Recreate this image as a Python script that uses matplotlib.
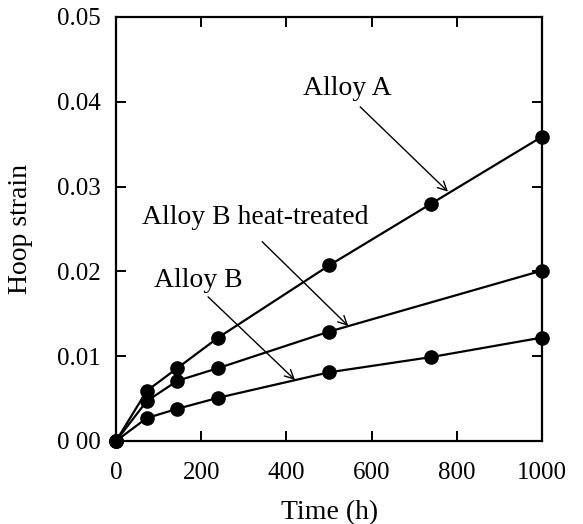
import matplotlib
matplotlib.use("Agg")
import matplotlib.pyplot as plt

time_h = [0, 72, 144, 240, 500, 740, 1000]
alloy_a = [0, 0.0059, 0.0086, 0.0122, 0.0207, 0.0280, 0.0359]
time_bht = [0, 72, 144, 240, 500, 1000]
alloy_b_ht = [0, 0.0047, 0.0071, 0.0086, 0.0129, 0.0201]
time_b = [0, 72, 144, 240, 500, 740, 1000]
alloy_b = [0, 0.0027, 0.0038, 0.0051, 0.0081, 0.0099, 0.0122]

xticks = [0, 200, 400, 600, 800, 1000]
yticks = [0.0, 0.01, 0.02, 0.03, 0.04, 0.05]
ytick_labels = ["0 00", "0.01", "0.02", "0.03", "0.04", "0.05"]

plt.rcParams['font.family'] = ['Liberation Serif', 'DejaVu Serif']

fig = plt.figure(figsize=(5.83, 5.24), dpi=100)
ax = fig.add_axes([0.199, 0.1584, 0.731, 0.8092])

for t, y in [(time_h, alloy_a), (time_bht, alloy_b_ht), (time_b, alloy_b)]:
    ax.plot(t, y, color='black', lw=1.6, marker='o', markersize=9.5, clip_on=False, zorder=3)

ax.set_xlim(0, 1000)
ax.set_ylim(0, 0.05)
ax.set_xticks(xticks)
ax.set_xticklabels([str(v) for v in xticks])
ax.set_yticks(yticks)
ax.set_yticklabels(ytick_labels)
ax.tick_params(direction='in', length=7, width=1.4, top=True, right=True, labelsize=18)
ax.tick_params(axis='x', pad=15)
ax.tick_params(axis='y', pad=11)
for s in ax.spines.values():
    s.set_linewidth(1.6)

ax.set_xlabel("Time (h)", fontsize=20, labelpad=12)
ax.set_ylabel("Hoop strain", fontsize=20, labelpad=17)

arrow = dict(arrowstyle='->', color='black', lw=1.0, mutation_scale=16, shrinkA=0, shrinkB=0)
ax.annotate("", xy=(779, 0.0294), xytext=(573, 0.0394), arrowprops=arrow)
ax.text(542, 0.0416, "Alloy A", fontsize=20, ha='center', va='center')
ax.annotate("", xy=(545, 0.01356), xytext=(343, 0.0235), arrowprops=arrow)
ax.text(326, 0.0263, "Alloy B heat-treated", fontsize=20, ha='center', va='center')
ax.annotate("", xy=(420, 0.0072), xytext=(216, 0.0170), arrowprops=arrow)
ax.text(192, 0.0189, "Alloy B", fontsize=20, ha='center', va='center')

fig.savefig("out.png", dpi=100)
